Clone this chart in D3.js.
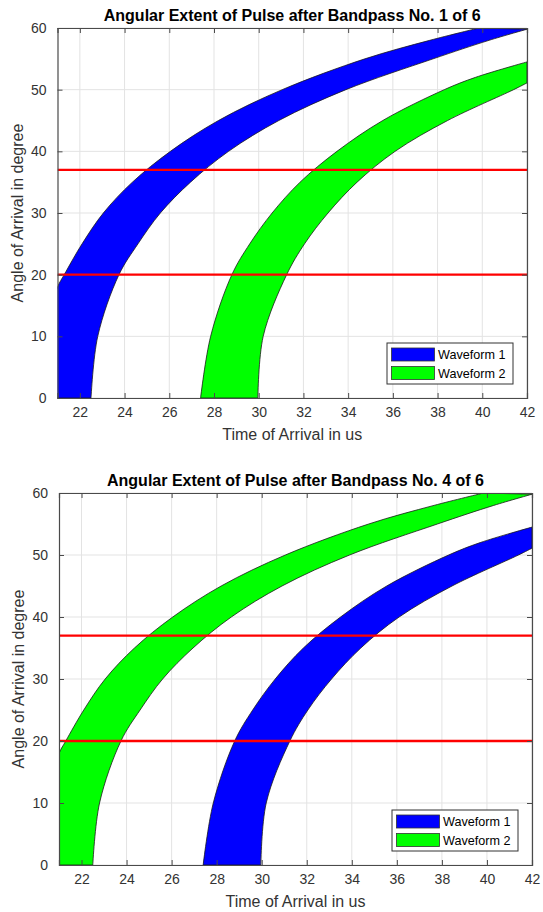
<!DOCTYPE html>
<html>
<head>
<meta charset="utf-8">
<script src="https://cdn.jsdelivr.net/npm/d3@7"></script>
<style>
  body { margin: 0; background: #fff; }
  svg { display: block; font-family: "Liberation Sans", Arial, sans-serif; }
</style>
</head>
<body>
<div id="chart"></div>
<script>
// valores
const timeTicks = [22, 24, 26, 28, 30, 32, 34, 36, 38, 40, 42];
const angleTicks = [0, 10, 20, 30, 40, 50, 60];
const redLevels = [20, 37];
const titles = [
    "Angular Extent of Pulse after Bandpass No. 1 of 6",
    "Angular Extent of Pulse after Bandpass No. 4 of 6"
];
const seriesNames = ["Waveform 1", "Waveform 2"];
const seriesColors = ["#0000ff", "#00ff00"];

// faixa adiantada: borda esquerda (superior) e direita (inferior), pares [tempo, ângulo]
// (os dois primeiros pontos da borda esquerda ficam fora do eixo e são cortados)
const earlyUpper = [[20.0, 0], [20.3, 10], [21.0, 18], [21.3, 20], [22.1, 25], [23.05, 30], [24.35, 35],
    [26.05, 40], [28.2, 45], [31.05, 50], [34.75, 55], [37.65, 58], [39.85, 60]];
const earlyLower = [[22.5, 0], [22.8, 10], [23.75, 20], [24.6, 25], [25.6, 30], [26.95, 35],
    [28.65, 40], [30.9, 45], [33.9, 50], [37.8, 55], [40.3, 58], [42, 59.8]];
// faixa atrasada
const lateUpper = [[27.4, 0], [27.85, 10], [28.8, 20], [29.6, 25], [30.6, 30], [31.85, 35],
    [33.5, 40], [35.55, 45], [38.3, 50], [39.7, 52], [42, 54.5]];
const lateLower = [[29.96, 0], [30.2, 10], [31.25, 20], [32.05, 25], [33.1, 30], [34.4, 35],
    [36.1, 40], [38.45, 45], [41.4, 50], [42, 51.1]];

// qual faixa cada waveform ocupa em cada painel
const panelBands = [
    [[earlyUpper, earlyLower], [lateUpper, lateLower]],
    [[lateUpper, lateLower], [earlyUpper, earlyLower]]
];
const panelBoxes = [
    { left: 57.5, top: 28, right: 527, bottom: 398 },
    { left: 59, top: 493, right: 532, bottom: 865 }
];

const W = 543, H = 912;
const svg = d3.select("#chart").append("svg")
    .attr("width", W)
    .attr("height", H);

panelBoxes.forEach((box, i) => drawPanel(box, i));

function drawPanel(box, i) {
    const x = d3.scaleLinear().domain([21, 42]).range([box.left, box.right]);
    const y = d3.scaleLinear().domain([0, 60]).range([box.bottom, box.top]);
    const w = box.right - box.left, h = box.bottom - box.top;
    const g = svg.append("g");

    const clipId = "clip" + i;
    g.append("clipPath").attr("id", clipId)
        .append("rect").attr("x", box.left).attr("y", box.top).attr("width", w).attr("height", h);

    // grade
    g.append("g").selectAll("line").data(timeTicks).join("line")
        .attr("x1", d => x(d)).attr("x2", d => x(d))
        .attr("y1", box.top).attr("y2", box.bottom)
        .attr("stroke", "#e3e3e3").attr("stroke-width", 1);
    g.append("g").selectAll("line").data(angleTicks).join("line")
        .attr("x1", box.left).attr("x2", box.right)
        .attr("y1", d => y(d)).attr("y2", d => y(d))
        .attr("stroke", "#e3e3e3").attr("stroke-width", 1);

    // faixas
    const line = d3.line().x(d => x(d[0])).y(d => y(d[1])).curve(d3.curveCatmullRom);
    const plot = g.append("g").attr("clip-path", `url(#${clipId})`);
    panelBands[i].forEach((band, k) => {
        const [upper, lower] = band;
        const path = line(upper) + "L" + line(lower.slice().reverse()).slice(1) + "Z";
        plot.append("path")
            .attr("d", path)
            .attr("fill", seriesColors[k])
            .attr("stroke", "#1a1a1a")
            .attr("stroke-width", 0.8);
    });

    // linhas vermelhas
    plot.selectAll("line.red").data(redLevels).join("line")
        .attr("class", "red")
        .attr("x1", box.left).attr("x2", box.right)
        .attr("y1", d => y(d)).attr("y2", d => y(d))
        .attr("stroke", "#ff0000").attr("stroke-width", 2.4);

    // eixos (ticks para dentro, caixa completa)
    const axisColor = "#4a4a4a";
    const tl = 5;
    const axB = g.append("g").attr("transform", `translate(0,${box.bottom})`)
        .call(d3.axisBottom(x).tickValues(timeTicks).tickSize(-tl).tickPadding(9));
    const axT = g.append("g").attr("transform", `translate(0,${box.top})`)
        .call(d3.axisTop(x).tickValues(timeTicks).tickSize(-tl).tickFormat(""));
    const axL = g.append("g").attr("transform", `translate(${box.left},0)`)
        .call(d3.axisLeft(y).tickValues(angleTicks).tickSize(-tl).tickPadding(11));
    const axR = g.append("g").attr("transform", `translate(${box.right},0)`)
        .call(d3.axisRight(y).tickValues(angleTicks).tickSize(-tl).tickFormat(""));
    [axB, axT, axL, axR].forEach(ax => {
        ax.select(".domain").attr("stroke", axisColor).attr("stroke-width", 1.2);
        ax.selectAll(".tick line").attr("stroke", axisColor);
        ax.selectAll(".tick text")
            .attr("fill", "#333")
            .style("font-size", "14px")
            .style("font-family", "Liberation Sans, Arial, sans-serif");
    });

    // título e rótulos
    g.append("text")
        .attr("x", (box.left + box.right) / 2).attr("y", box.top - 7)
        .attr("text-anchor", "middle")
        .attr("font-weight", "bold").attr("font-size", 16).attr("fill", "#000")
        .text(titles[i]);
    g.append("text")
        .attr("x", (box.left + box.right) / 2).attr("y", box.bottom + 42)
        .attr("text-anchor", "middle")
        .attr("font-size", 16).attr("fill", "#333")
        .text("Time of Arrival in us");
    g.append("text")
        .attr("transform", `translate(${box.left - 35},${(box.top + box.bottom) / 2}) rotate(-90)`)
        .attr("text-anchor", "middle")
        .attr("font-size", 16).attr("fill", "#333")
        .text("Angle of Arrival in degree");

    // legenda
    const lg = g.append("g").attr("transform", `translate(${box.right - 140},${box.bottom - 55})`);
    lg.append("rect")
        .attr("x", 0).attr("y", 0).attr("width", 126).attr("height", 41)
        .attr("fill", "#fff").attr("stroke", "#333").attr("stroke-width", 1);
    seriesNames.forEach((name, k) => {
        lg.append("rect")
            .attr("x", 4.5).attr("y", 5 + k * 18.5).attr("width", 43).attr("height", 13)
            .attr("fill", seriesColors[k]).attr("stroke", "#333").attr("stroke-width", 0.8);
        lg.append("text")
            .attr("x", 51).attr("y", 16 + k * 18.5)
            .attr("font-size", 12.6).attr("fill", "#000")
            .text(name);
    });
}
</script>
</body>
</html>
